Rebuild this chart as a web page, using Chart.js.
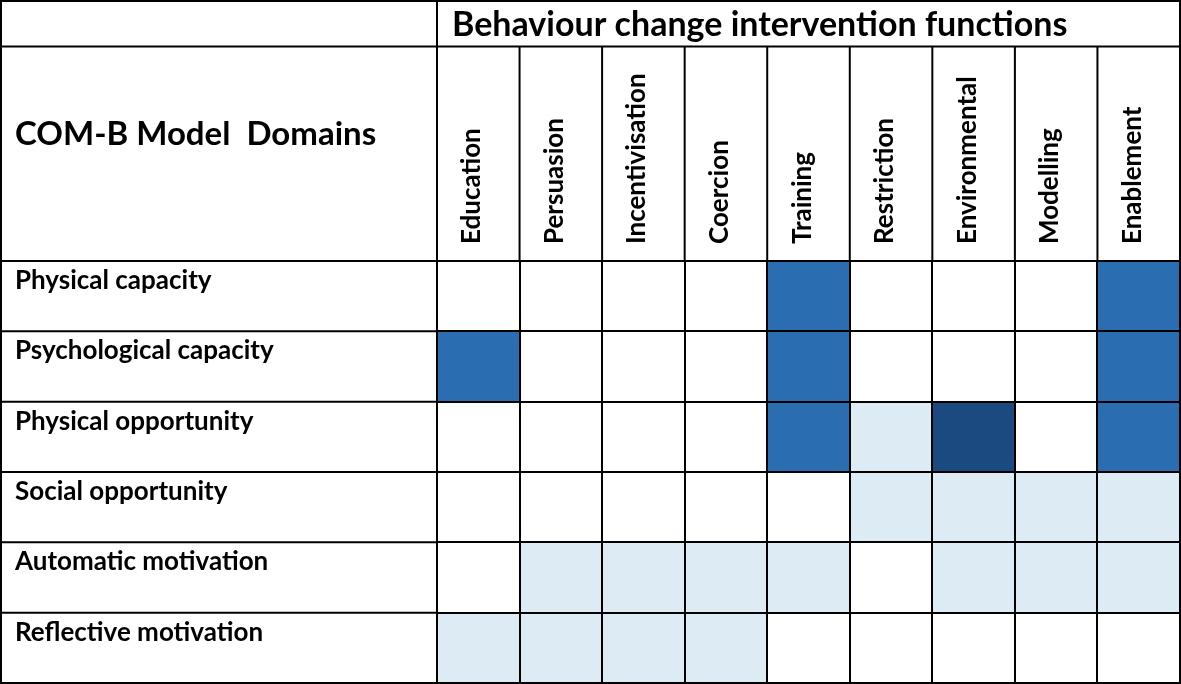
<!DOCTYPE html>
<html lang="en">
<head>
    <meta charset="UTF-8">
    <title>COM-B domains vs intervention functions</title>
    <style>
        body{
            margin: 0;
            overflow: hidden;
            background: #fff;
        }
    </style>
</head>
<body>
<canvas id="chart" width="1181" height="684"></canvas>
<script src="https://cdn.jsdelivr.net/npm/chart.js"></script>
<script>
    const rowLabels = ['Physical capacity', 'Psychological capacity', 'Physical opportunity',
        'Social opportunity', 'Automatic motivation', 'Reflective motivation'];
    const colLabels = ['Education', 'Persuasion', 'Incentivisation', 'Coercion', 'Training',
        'Restriction', 'Environmental', 'Modelling', 'Enablement'];
    // 0 = not linked, 1 = light, 2 = blue, 3 = dark blue
    const physicalCapacity      = [0, 0, 0, 0, 2, 0, 0, 0, 2];
    const psychologicalCapacity = [2, 0, 0, 0, 2, 0, 0, 0, 2];
    const physicalOpportunity   = [0, 0, 0, 0, 2, 1, 3, 0, 2];
    const socialOpportunity     = [0, 0, 0, 0, 0, 1, 1, 1, 1];
    const automaticMotivation   = [0, 1, 1, 1, 1, 0, 1, 1, 1];
    const reflectiveMotivation  = [1, 1, 1, 1, 0, 0, 0, 0, 0];
    const headerTitle = 'Behaviour change intervention functions';
    const cornerTitle = 'COM-B Model  Domains';

    const levels = [physicalCapacity, psychologicalCapacity, physicalOpportunity,
        socialOpportunity, automaticMotivation, reflectiveMotivation];
    const levelColors = ['#ffffff', '#dcebf4', '#2b6db1', '#1a4a7f'];
    const FONT = 'Lato, Carlito, Calibri, sans-serif';

    // one dataset per intervention column, each cell a floating bar [c, c+1]
    const datasets = colLabels.map((name, c) => ({
        label: name,
        data: rowLabels.map(() => [c, c + 1]),
        backgroundColor: rowLabels.map((r, i) => levelColors[levels[i][c]]),
        borderWidth: 0,
        grouped: false,
        barPercentage: 1,
        categoryPercentage: 1
    }));

    const tableFrame = {
        id: 'tableFrame',
        afterDraw(chart) {
            const ctx = chart.ctx;
            const area = chart.chartArea;
            const xs = chart.scales.x;
            const W = chart.width, H = chart.height;
            const headerLine = 46.5;
            const rowH = (area.bottom - area.top) / rowLabels.length;
            ctx.save();
            ctx.strokeStyle = '#000';
            ctx.lineWidth = 2;
            ctx.beginPath();
            ctx.rect(1, 1, W - 2, H - 2);
            ctx.moveTo(0, headerLine); ctx.lineTo(W, headerLine);
            ctx.moveTo(0, area.top); ctx.lineTo(W, area.top);
            ctx.moveTo(area.left, 0); ctx.lineTo(area.left, H);
            for (let c = 1; c < colLabels.length; c++) {
                const x = xs.getPixelForValue(c);
                ctx.moveTo(x, headerLine); ctx.lineTo(x, area.top);
            }
            for (let i = 1; i < rowLabels.length; i++) {
                const y = area.top + i * rowH;
                ctx.moveTo(0, y); ctx.lineTo(area.left, y);
            }
            ctx.stroke();

            ctx.fillStyle = '#000';
            ctx.textBaseline = 'alphabetic';
            ctx.textAlign = 'left';
            ctx.font = 'bold 34px ' + FONT;
            ctx.fillText(headerTitle, area.left + 15, 36);
            ctx.font = 'bold 33px ' + FONT;
            ctx.fillText(cornerTitle, 15, 145);

            ctx.font = 'bold 26px ' + FONT;
            rowLabels.forEach((label, i) => {
                ctx.fillText(label, 15, area.top + i * rowH + 28);
            });

            colLabels.forEach((label, c) => {
                const x = xs.getPixelForValue(c + 0.5);
                ctx.save();
                ctx.translate(x + 2, area.top - 17);
                ctx.rotate(-Math.PI / 2);
                ctx.fillText(label, 0, 0);
                ctx.restore();
            });
            ctx.restore();
        }
    };

    new Chart(document.getElementById('chart'), {
        type: 'bar',
        data: {labels: rowLabels, datasets},
        options: {
            indexAxis: 'y',
            responsive: false,
            animation: false,
            layout: {padding: {left: 437, top: 261, right: 1, bottom: 1}},
            plugins: {
                legend: {display: false},
                tooltip: {enabled: false}
            },
            scales: {
                x: {
                    type: 'linear',
                    min: 0,
                    max: colLabels.length,
                    ticks: {display: false, stepSize: 1},
                    grid: {color: '#000', lineWidth: 2, drawTicks: false, z: 1},
                    border: {display: false}
                },
                y: {
                    type: 'category',
                    ticks: {display: false},
                    grid: {color: '#000', lineWidth: 2, drawTicks: false, offset: true, z: 1},
                    border: {display: false}
                }
            }
        },
        plugins: [tableFrame]
    });
</script>
</body>
</html>
